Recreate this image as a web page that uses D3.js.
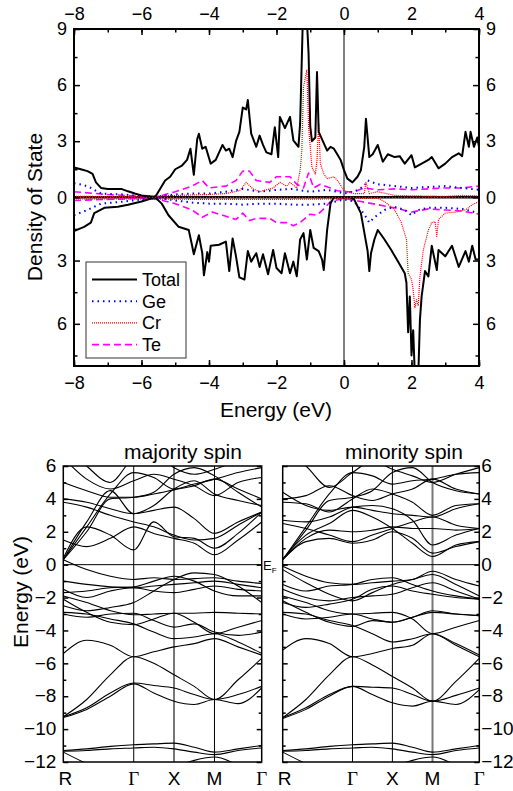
<!DOCTYPE html>
<html>
<head>
<meta charset="utf-8">
<script src="https://cdn.jsdelivr.net/npm/d3@7"></script>
<style>
  body { margin: 0; background: #fff; }
  text { font-family: "Liberation Sans", Arial, sans-serif; fill: #000; }
</style>
</head>
<body>
<div id="container"></div>
<script>
/* CONSTANTS AND GLOBALS */
const width = 513,
    height = 791;

/* DOS DATA: [energy (eV), states] */
const totalUp = [[-8,1.6],[-7.8,1.5],[-7.6,1.4],[-7.45,1.25],[-7.35,0.8],[-7.2,0.5],[-7.0,0.45],[-6.6,0.45],[-6.4,0.32],[-6.2,0.2],[-6.0,0.1],[-5.8,0.05],[-5.6,0],[-5.5,0.3],[-5.3,0.9],[-5.15,1.1],[-5.0,1.5],[-4.8,1.7],[-4.65,2.0],[-4.55,2.6],[-4.45,1.2],[-4.35,3.1],[-4.3,3.4],[-4.2,2.6],[-4.1,2.7],[-3.95,1.8],[-3.8,2.0],[-3.6,2.8],[-3.5,2.5],[-3.4,2.6],[-3.3,2.15],[-3.2,3.0],[-3.1,3.5],[-3.0,4.8],[-2.9,4.7],[-2.85,5.2],[-2.75,3.4],[-2.6,2.7],[-2.5,3.3],[-2.4,2.8],[-2.3,2.4],[-2.15,2.3],[-2.05,3.75],[-1.95,2.15],[-1.9,4.3],[-1.75,3.7],[-1.6,4.3],[-1.5,3.05],[-1.35,2.7],[-1.3,3.95],[-1.22,9.5],[-1.1,9.5],[-1.05,7.7],[-1.0,3.8],[-0.95,3.0],[-0.85,3.2],[-0.8,6.7],[-0.75,3.5],[-0.6,2.9],[-0.5,2.5],[-0.4,2.7],[-0.3,2.6],[-0.2,2.3],[-0.1,2.0],[0,1.45],[0.1,1.0],[0.25,0.8],[0.4,1.1],[0.5,1.45],[0.6,2.7],[0.65,4.2],[0.75,2.15],[0.85,2.3],[1.0,2.8],[1.15,1.9],[1.3,2.3],[1.5,2.15],[1.65,2.2],[1.8,1.8],[2.0,2.25],[2.1,1.6],[2.3,1.8],[2.5,2.0],[2.6,2.15],[2.8,1.55],[3.0,1.8],[3.2,2.15],[3.4,2.35],[3.5,2.2],[3.6,3.5],[3.7,2.7],[3.75,3.5],[3.85,2.7],[3.95,3.2],[4.0,2.7]];
const totalDn = [[-8,1.6],[-7.7,1.4],[-7.5,1.2],[-7.4,0.75],[-7.1,0.5],[-6.7,0.45],[-6.4,0.35],[-6.0,0.2],[-5.6,0],[-5.4,0.3],[-5.2,0.85],[-4.9,1.4],[-4.6,1.55],[-4.5,2.3],[-4.45,2.7],[-4.3,1.8],[-4.2,2.65],[-4.15,3.7],[-4.05,2.6],[-4.0,3.05],[-3.95,2.3],[-3.7,2.25],[-3.5,2.1],[-3.4,3.5],[-3.3,1.95],[-3.2,2.8],[-3.1,3.8],[-2.95,3.9],[-2.85,2.55],[-2.75,3.05],[-2.6,2.65],[-2.5,3.3],[-2.4,2.7],[-2.25,3.65],[-2.1,2.5],[-2.0,3.35],[-1.85,3.6],[-1.75,2.65],[-1.6,3.6],[-1.5,3.05],[-1.4,3.75],[-1.3,2.0],[-1.2,1.7],[-1.1,2.95],[-1.0,1.55],[-0.9,2.4],[-0.75,2.55],[-0.65,2.95],[-0.6,3.45],[-0.5,1.55],[-0.4,0.3],[-0.3,0],[0.2,0],[0.3,0.1],[0.5,0.75],[0.7,2.55],[0.75,3.5],[0.8,2.65],[0.9,2.0],[1.0,1.55],[1.2,2.0],[1.4,2.5],[1.6,3.05],[1.8,3.6],[1.85,4.05],[1.9,6.4],[1.95,4.7],[2.0,7.5],[2.05,6.3],[2.1,8.5],[2.2,8.5],[2.25,5.8],[2.3,4.7],[2.4,3.5],[2.5,3.75],[2.6,2.3],[2.75,3.45],[2.8,2.5],[3.0,2.8],[3.2,2.3],[3.4,3.3],[3.6,2.55],[3.7,3.05],[3.8,2.3],[3.9,2.95],[4.0,2.95]];
const geUp = [[-8,0.75],[-7.7,0.65],[-7.5,0.5],[-7.2,0.2],[-6.5,0.15],[-6,0.05],[-5.5,0.05],[-5,0.15],[-4.5,0.2],[-4,0.2],[-3.5,0.3],[-3,0.45],[-2.5,0.3],[-2,0.4],[-1.5,0.45],[-1.2,0.35],[-1,0.3],[-0.5,0.4],[-0.2,0.3],[0,0.2],[0.3,0.3],[0.6,0.6],[0.7,0.9],[1,0.7],[1.5,0.6],[2,0.5],[2.5,0.55],[3,0.6],[3.5,0.5],[4,0.4]];
const geDn = [[-8,0.85],[-7.6,0.6],[-7.2,0.3],[-6.5,0.2],[-6,0.1],[-5.6,0],[-5,0.15],[-4.5,0.25],[-4,0.3],[-3.5,0.3],[-3,0.35],[-2.5,0.3],[-2,0.3],[-1.5,0.35],[-1,0.35],[-0.5,0.3],[0,0.1],[0.3,0.2],[0.6,0.8],[0.75,1.2],[0.9,0.95],[1.2,0.6],[1.5,0.45],[1.8,0.6],[2,0.85],[2.2,0.6],[2.5,0.5],[3,0.5],[3.5,0.55],[4,0.75]];
const crUp = [[-8,0.05],[-6,0.03],[-5,0.1],[-4,0.15],[-3.5,0.2],[-3.1,0.35],[-3,0.55],[-2.9,0.8],[-2.7,0.45],[-2.5,0.3],[-2.1,0.5],[-1.9,0.8],[-1.7,0.6],[-1.6,0.8],[-1.4,0.5],[-1.3,1.45],[-1.25,2.5],[-1.2,5.9],[-1.1,6.8],[-1.05,3.8],[-0.95,1.6],[-0.85,1.25],[-0.8,2.0],[-0.75,3.95],[-0.7,1.8],[-0.6,1.25],[-0.5,1.0],[-0.3,1.1],[-0.15,0.8],[0,0.35],[0.3,0.2],[0.6,0.2],[0.65,0.8],[0.75,0.2],[1,0.3],[1.5,0.1],[2,0.08],[3,0.05],[3.5,0.1],[4,0.08]];
const crDn = [[-8,0.08],[-6,0.08],[-4,0.1],[-2,0.1],[-0.5,0.08],[0,0.05],[1,0.05],[1.2,0.2],[1.5,0.6],[1.7,1.2],[1.85,2.0],[1.9,3.6],[2.0,3.9],[2.05,4.4],[2.1,5.25],[2.15,4.85],[2.2,5.15],[2.25,3.75],[2.35,2.5],[2.5,1.55],[2.6,1.2],[2.7,1.15],[2.75,1.85],[2.8,1.05],[3.0,0.75],[3.3,0.7],[3.6,0.6],[3.8,0.35],[4.0,0.2]];
const teUp = [[-8,0.3],[-7,0.15],[-6,0.05],[-5.5,0.05],[-5,0.3],[-4.5,0.6],[-4.2,0.9],[-4,0.5],[-3.5,0.6],[-3.2,0.9],[-3,1.4],[-2.8,1.4],[-2.6,0.9],[-2.2,0.8],[-2,1.1],[-1.8,1.1],[-1.6,1.1],[-1.4,0.7],[-1.2,0.5],[-1.05,1.3],[-0.9,0.5],[-0.7,0.7],[-0.4,0.5],[-0.2,0.35],[0,0.3],[0.3,0.3],[0.6,0.5],[1,0.4],[1.5,0.45],[2,0.4],[2.5,0.45],[3,0.5],[3.5,0.5],[4,0.6]];
const teDn = [[-8,0.15],[-7,0.1],[-6,0.05],[-5.5,0.1],[-5,0.3],[-4.5,0.6],[-4.2,0.95],[-3.9,0.7],[-3.5,0.9],[-3.2,1.05],[-3,0.75],[-2.8,1.1],[-2.6,1.0],[-2.2,1.0],[-2,1.2],[-1.7,1.2],[-1.5,1.35],[-1.3,1.2],[-1,0.8],[-0.8,0.85],[-0.6,0.55],[-0.4,0.2],[0,0.05],[0.5,0.2],[1,0.35],[1.5,0.5],[2,0.7],[2.5,0.55],[3,0.6],[3.5,0.65],[4,0.8]];

const dosTicks = [-8, -6, -4, -2, 0, 2, 4];
const legendNames = ["Total", "Ge", "Cr", "Te"];

/* BAND DATA: energies (eV) at the k nodes R..Γ..X..M..Γ */
const kLabels = ["R", "Γ", "X", "M", "Γ"];
const kTicks = [0, 0.355, 0.558, 0.762, 1];
const kNodes = [0, 0.118, 0.237, 0.355, 0.456, 0.558, 0.66, 0.762, 0.881, 1];

const majBands = [
    [-11.3, -11.2, -11.05, -10.95, -10.9, -10.85, -11.1, -11.4, -11.2, -11.0],
    [-11.35, -11.3, -11.2, -11.15, -11.1, -11.2, -11.4, -11.55, -11.3, -11.15],
    [-11.4, -12.1, -12.7, -13, -12.7, -12.3, -11.9, -11.7, -12.2, -13],
    [-9.25, -8.7, -7.8, -7.2, -7.35, -7.5, -7.9, -8.2, -7.9, -7.4],
    [-9.25, -8.2, -6.7, -5.6, -6.0, -6.7, -7.4, -8.2, -7.0, -5.7],
    [-9.3, -8.8, -8.0, -7.25, -7.8, -8.3, -8.5, -8.2, -8.45, -7.5],
    [-5.4, -4.6, -4.9, -5.6, -5.3, -5.0, -4.8, -4.5, -5.0, -5.5],
    [-2.9, -3.0, -3.3, -3.6, -4.1, -4.5, -4.4, -4.2, -4.7, -5.4],
    [-2.1, -2.9, -3.5, -3.65, -3.3, -2.95, -2.95, -2.9, -2.95, -3.0],
    [-1.9, -2.3, -2.8, -3.05, -3.0, -2.95, -3.5, -4.2, -3.8, -3.4],
    [-3.0, -3.2, -3.0, -2.95, -3.4, -3.8, -3.6, -4.1, -4.3, -4.1],
    [0.3, -0.3, -0.7, -0.9, -0.8, -0.9, -0.85, -0.8, -1.0, -1.15],
    [-1.0, -1.2, -1.35, -1.4, -1.3, -1.2, -1.1, -1.0, -1.2, -1.4],
    [-1.5, -2.0, -1.6, -1.4, -1.6, -1.7, -1.5, -1.3, -1.5, -1.6],
    [-1.7, -1.6, -1.4, -1.35, -1.0, -0.7, -1.0, -1.6, -1.9, -1.9],
    [-2.5, -2.8, -2.6, -2.3, -1.6, -0.9, -0.5, -0.6, -1.3, -2.3],
    [0.3, 2.3, 4.3, 5.6, 5.3, 4.6, 4.9, 5.2, 5.6, 5.9],
    [0.3, 2.0, 4.0, 4.1, 4.4, 5.5, 5.9, 5.4, 4.4, 3.5],
    [0.3, 2.6, 4.5, 3.1, 3.3, 3.5, 2.8, 1.9, 2.6, 3.2],
    [0.4, 2.3, 1.8, 0.9, 2.6, 1.7, 1.6, 1.0, 1.9, 3.2],
    [1.5, 1.1, 1.6, 2.3, 1.9, 1.6, 1.3, 0.6, 1.5, 2.6],
    [3.8, 3.5, 3.0, 2.6, 2.3, 1.8, 1.5, 1.6, 2.4, 3.2],
    [4.0, 3.8, 3.4, 3.1, 3.6, 4.6, 5.1, 4.3, 3.9, 3.6],
    [6.5, 5.2, 4.6, 5.1, 5.5, 5.2, 4.8, 4.2, 5.0, 5.3],
    [7.5, 6.0, 5.0, 6.5, 6.8, 5.9, 5.5, 5.8, 6.3, 6.5],
    [5.0, 4.5, 4.1, 4.1, 4.3, 4.55, 4.8, 5.2, 4.6, 4.0]
];

const minBands = [
    [-11.3, -11.2, -11.05, -10.95, -10.9, -10.85, -11.1, -11.4, -11.2, -11.0],
    [-11.35, -11.3, -11.2, -11.15, -11.1, -11.2, -11.4, -11.55, -11.3, -11.15],
    [-11.4, -12.1, -12.7, -13, -12.7, -12.3, -11.9, -11.7, -12.2, -13],
    [-9.3, -8.7, -7.9, -7.4, -7.45, -7.5, -7.9, -8.3, -7.95, -7.5],
    [-9.3, -8.2, -6.7, -5.6, -6.1, -6.8, -7.5, -8.3, -7.1, -5.7],
    [-9.35, -8.8, -8.0, -7.4, -7.9, -8.4, -8.6, -8.3, -8.5, -7.6],
    [-5.2, -4.5, -4.8, -5.6, -5.4, -5.1, -4.9, -4.2, -4.9, -5.6],
    [-2.9, -3.0, -3.4, -3.7, -4.2, -4.7, -4.5, -4.2, -4.8, -5.5],
    [-2.2, -2.9, -3.5, -3.75, -3.4, -3.5, -3.2, -2.9, -3.0, -3.1],
    [-1.9, -2.3, -2.8, -3.0, -2.95, -2.9, -3.3, -4.2, -3.8, -3.4],
    [-3.0, -3.3, -3.2, -3.0, -3.3, -3.5, -3.2, -2.8, -3.0, -3.1],
    [-0.1, -0.7, -1.1, -1.2, -1.1, -1.0, -0.9, -0.4, -0.9, -1.3],
    [-0.3, -1.1, -1.8, -2.2, -1.7, -1.2, -0.9, -0.6, -1.2, -1.9],
    [-1.5, -2.0, -2.2, -2.0, -1.9, -1.8, -1.4, -1.1, -1.6, -2.1],
    [-2.3, -2.6, -2.4, -2.1, -1.5, -1.3, -1.6, -1.8, -2.0, -2.1],
    [-1.2, -1.6, -1.3, -1.2, -0.9, -0.8, -1.2, -1.6, -1.9, -2.1],
    [0.3, 2.3, 4.3, 5.6, 5.4, 4.9, 5.1, 5.2, 5.5, 5.6],
    [0.3, 2.1, 3.9, 4.1, 4.5, 5.6, 5.9, 5.0, 4.5, 4.3],
    [0.3, 1.6, 2.1, 2.0, 2.1, 2.3, 2.2, 2.2, 2.1, 2.2],
    [0.3, 1.4, 1.6, 1.3, 1.5, 2.0, 1.6, 0.7, 1.1, 1.4],
    [0.35, 1.8, 2.5, 3.3, 2.9, 2.2, 1.3, 0.5, 1.2, 1.4],
    [2.7, 2.6, 2.9, 3.5, 3.6, 3.4, 2.7, 1.2, 1.8, 2.2],
    [2.5, 2.2, 1.8, 1.4, 1.8, 2.2, 2.6, 2.9, 2.4, 2.2],
    [4.4, 3.6, 3.3, 3.5, 3.3, 3.1, 3.0, 2.9, 3.4, 3.7],
    [4.0, 4.2, 4.8, 4.2, 3.9, 4.3, 4.6, 5.2, 4.6, 4.3],
    [7.0, 6.0, 4.7, 5.6, 6.3, 5.8, 5.4, 5.0, 5.5, 5.9],
    [3.8, 3.7, 3.2, 4.0, 4.6, 4.3, 3.8, 3.0, 3.6, 3.7]
];

const svg = d3.select("#container")
    .append("svg")
    .attr("width", width)
    .attr("height", height)
    .style("background-color", "white");

const fontSize = 18;

/* ---------------- DOS PANEL ---------------- */
const x = d3.scaleLinear().domain([-8, 4]).range([74, 479]);
const yUp = d3.scaleLinear().domain([0, 9]).range([197.3, 29]);
const yDn = d3.scaleLinear().domain([0, 8]).range([197.3, 366]);

svg.append("clipPath").attr("id", "dosClip")
    .append("rect").attr("x", 74).attr("y", 29).attr("width", 405).attr("height", 337);

const dos = svg.append("g").attr("clip-path", "url(#dosClip)");

const lineUp = d3.line().x(d => x(d[0])).y(d => yUp(d[1]));
const lineDn = d3.line().x(d => x(d[0])).y(d => yDn(d[1]));

// zero line and Fermi level
dos.append("line").attr("x1", 74).attr("x2", 479).attr("y1", yUp(0)).attr("y2", yUp(0))
    .attr("stroke", "black").attr("stroke-width", 2.5);
dos.append("line").attr("x1", x(0)).attr("x2", x(0)).attr("y1", 29).attr("y2", 366)
    .attr("stroke", "black").attr("stroke-width", 1);

const styles = {
    Total: { color: "black", width: 2, dash: null },
    Ge: { color: "#0000ff", width: 2, dash: "1.5,4" },
    Cr: { color: "#ff0000", width: 1.2, dash: "1,1" },
    Te: { color: "#ff00ff", width: 1.6, dash: "7,4" }
};

const series = [
    ["Te", teUp, teDn], ["Ge", geUp, geDn], ["Cr", crUp, crDn], ["Total", totalUp, totalDn]
];
series.forEach(([name, up, dn]) => {
    const s = styles[name];
    [[up, lineUp], [dn, lineDn]].forEach(([data, gen]) => {
        dos.append("path")
            .attr("d", gen(data))
            .attr("fill", "none")
            .attr("stroke", s.color)
            .attr("stroke-width", s.width)
            .attr("stroke-dasharray", s.dash)
            .attr("stroke-linejoin", "round");
    });
});

// red dotted baseline on top of zero line
dos.append("line").attr("x1", 74).attr("x2", 479).attr("y1", yUp(0)).attr("y2", yUp(0))
    .attr("stroke", "#ff0000").attr("stroke-width", 1.2).attr("stroke-dasharray", "1,2");

// frame
svg.append("rect").attr("x", 74).attr("y", 29).attr("width", 405).attr("height", 337)
    .attr("fill", "none").attr("stroke", "black").attr("stroke-width", 2);

function styleAxis(g) {
    g.select(".domain").remove();
    g.selectAll("line").attr("stroke", "black").attr("stroke-width", 1.5);
    g.selectAll("text").attr("font-size", fontSize).attr("font-family", "Liberation Sans, Arial, sans-serif");
}

// x axes (top and bottom), inward ticks
const xMinor = d3.range(-8, 5, 1);
svg.append("g").attr("transform", "translate(0,29)")
    .call(d3.axisTop(x).tickValues(dosTicks).tickSize(-6).tickPadding(9).tickSizeOuter(0))
    .call(styleAxis);
svg.append("g").attr("transform", "translate(0,29)")
    .call(d3.axisTop(x).tickValues(xMinor).tickSize(-3.5).tickFormat("").tickSizeOuter(0))
    .call(styleAxis);
svg.append("g").attr("transform", "translate(0,366)")
    .call(d3.axisBottom(x).tickValues(dosTicks).tickSize(-6).tickPadding(10).tickSizeOuter(0))
    .call(styleAxis);
svg.append("g").attr("transform", "translate(0,366)")
    .call(d3.axisBottom(x).tickValues(xMinor).tickSize(-3.5).tickFormat("").tickSizeOuter(0))
    .call(styleAxis);

// y axes, left and right, up and down spin
[[74, d3.axisLeft], [479, d3.axisRight]].forEach(([xp, axisFn]) => {
    svg.append("g").attr("transform", `translate(${xp},0)`)
        .call(axisFn(yUp).tickValues([0, 3, 6, 9]).tickSize(-6).tickPadding(7).tickSizeOuter(0))
        .call(styleAxis);
    svg.append("g").attr("transform", `translate(${xp},0)`)
        .call(axisFn(yUp).tickValues([1.5, 4.5, 7.5]).tickSize(-3.5).tickFormat("").tickSizeOuter(0))
        .call(styleAxis);
    svg.append("g").attr("transform", `translate(${xp},0)`)
        .call(axisFn(yDn).tickValues([3, 6]).tickSize(-6).tickPadding(7).tickSizeOuter(0))
        .call(styleAxis);
    svg.append("g").attr("transform", `translate(${xp},0)`)
        .call(axisFn(yDn).tickValues([1.5, 4.5, 7.5]).tickSize(-3.5).tickFormat("").tickSizeOuter(0))
        .call(styleAxis);
});

// labels
svg.append("text")
    .attr("x", 276).attr("y", 417)
    .attr("text-anchor", "middle")
    .attr("font-size", 21)
    .text("Energy (eV)");

svg.append("text")
    .attr("transform", "translate(42,207) rotate(-90)")
    .attr("text-anchor", "middle")
    .attr("font-size", 21)
    .text("Density of State");

// legend
const legend = svg.append("g");
legend.append("rect").attr("x", 86).attr("y", 262).attr("width", 100).attr("height", 96)
    .attr("fill", "white").attr("stroke", "#333").attr("stroke-width", 1);
legendNames.forEach((name, i) => {
    const s = styles[name];
    const yy = 279.5 + i * 21.7;
    legend.append("line").attr("x1", 92).attr("x2", 137).attr("y1", yy).attr("y2", yy)
        .attr("stroke", s.color).attr("stroke-width", s.width).attr("stroke-dasharray", s.dash);
    legend.append("text").attr("x", 142).attr("y", yy + 6.5).attr("font-size", fontSize).text(name);
});

/* ---------------- BAND PANELS ---------------- */
const yB = d3.scaleLinear().domain([-12, 6]).range([762, 466]);

function drawBands(x0, x1, bands, id, title, titleX, grayLines, side) {
    const kx = d3.scaleLinear().domain([0, 1]).range([x0, x1]);
    svg.append("clipPath").attr("id", id)
        .append("rect").attr("x", x0).attr("y", 466).attr("width", x1 - x0).attr("height", 296);
    const g = svg.append("g").attr("clip-path", `url(#${id})`);

    // high-symmetry verticals
    kTicks.slice(1, 4).forEach((k, i) => {
        const gray = grayLines.includes(i);
        g.append("line").attr("x1", kx(k)).attr("x2", kx(k)).attr("y1", 466).attr("y2", 762)
            .attr("stroke", gray ? "#777" : "black").attr("stroke-width", gray ? 2 : 1);
    });
    // Fermi level
    g.append("line").attr("x1", x0).attr("x2", x1).attr("y1", yB(0)).attr("y2", yB(0))
        .attr("stroke", "black").attr("stroke-width", 1);

    const bandLine = d3.line()
        .x((d, i) => kx(kNodes[i]))
        .y(d => yB(d))
        .curve(d3.curveMonotoneX);
    g.selectAll("path.band")
        .data(bands)
        .join("path")
        .attr("class", "band")
        .attr("d", bandLine)
        .attr("fill", "none")
        .attr("stroke", "black")
        .attr("stroke-width", 1.1);

    svg.append("rect").attr("x", x0).attr("y", 466).attr("width", x1 - x0).attr("height", 296)
        .attr("fill", "none").attr("stroke", "black").attr("stroke-width", 1.5);

    // y ticks inward on both sides
    [[x0, d3.axisLeft], [x1, d3.axisRight]].forEach(([xp, axisFn]) => {
        svg.append("g").attr("transform", `translate(${xp},0)`)
            .call(axisFn(yB).tickValues(d3.range(-12, 7, 2)).tickSize(-5).tickFormat("").tickSizeOuter(0))
            .call(styleAxis);
        svg.append("g").attr("transform", `translate(${xp},0)`)
            .call(axisFn(yB).tickValues(d3.range(-11, 6, 2)).tickSize(-3).tickFormat("").tickSizeOuter(0))
            .call(styleAxis);
    });
    // tick labels
    const labAxis = side === "left"
        ? d3.axisLeft(yB).tickValues(d3.range(-12, 7, 2)).tickSize(0).tickPadding(7)
        : d3.axisRight(yB).tickValues(d3.range(-12, 7, 2)).tickSize(0).tickPadding(2);
    svg.append("g").attr("transform", `translate(${side === "left" ? x0 : x1},0)`)
        .call(labAxis)
        .call(g2 => g2.selectAll("text").attr("font-size", 19).attr("dy", "0.3em"))
        .call(g2 => g2.select(".domain").remove());

    // k labels
    kLabels.forEach((lab, i) => {
        svg.append("text")
            .attr("x", kx(kTicks[i]) + (i === 0 ? 2 : 0))
            .attr("y", 785)
            .attr("text-anchor", "middle")
            .attr("font-size", 19)
            .style("font-family", lab === "Γ" ? "Liberation Serif, serif" : null)
            .text(lab);
    });

    svg.append("text")
        .attr("x", titleX).attr("y", 459)
        .attr("text-anchor", "middle")
        .attr("font-size", 21)
        .text(title);
}

drawBands(63.3, 261.7, majBands, "majClip", "majority spin", 183, [1], "left");
drawBands(282.7, 479.3, minBands, "minClip", "minority spin", 404, [2], "right");

// E_F label
const ef = svg.append("text").attr("x", 263).attr("y", 570).attr("font-size", 13);
ef.append("tspan").text("E");
ef.append("tspan").attr("font-size", 8).attr("dy", 3).text("F");

// band energy axis label
svg.append("text")
    .attr("transform", "translate(28,592) rotate(-90)")
    .attr("text-anchor", "middle")
    .attr("font-size", 21)
    .text("Energy (eV)");
</script>
</body>
</html>
